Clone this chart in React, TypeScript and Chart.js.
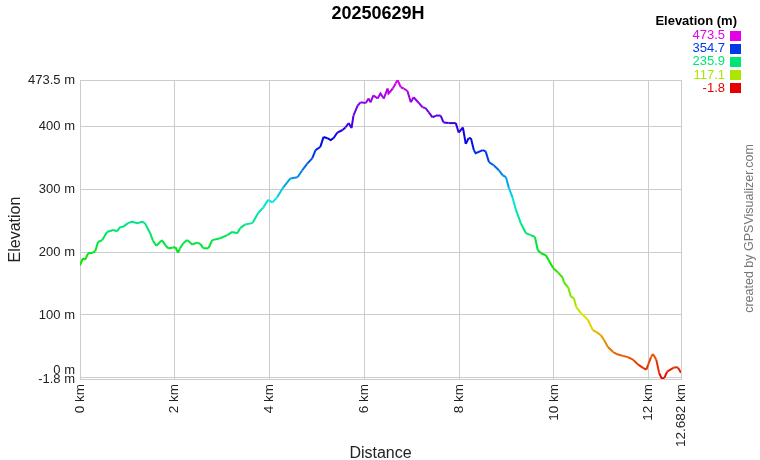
import React, { useEffect, useRef } from 'react';
import { Chart, registerables } from 'chart.js';

Chart.register(...registerables);

const TITLE = '20250629H';
const X_TITLE = 'Distance';
const Y_TITLE = 'Elevation';
const LEGEND_TITLE = 'Elevation (m)';
const CREDIT = 'created by GPSVisualizer.com';

const distanceKm = [
  0, 0.06, 0.11, 0.17, 0.27, 0.32, 0.38, 0.47, 0.57, 0.70, 0.78, 0.85, 0.91, 1.01, 1.10, 1.21, 1.31, 1.37,
  1.48, 1.54, 1.61, 1.73, 1.80, 1.86, 1.95, 2.01, 2.07, 2.11, 2.18, 2.26, 2.37, 2.47, 2.54, 2.60, 2.71, 2.79,
  2.96, 3.11, 3.21, 3.32, 3.38, 3.49, 3.64, 3.76, 3.87, 3.97, 4.06, 4.16, 4.29, 4.44, 4.59, 4.69, 4.80, 4.90,
  4.97, 5.07, 5.14, 5.22, 5.29, 5.35, 5.43, 5.54, 5.60, 5.67, 5.73, 5.77, 5.86, 5.92, 6.03, 6.09, 6.13, 6.19,
  6.28, 6.34, 6.41, 6.49, 6.51, 6.60, 6.66, 6.70, 6.77, 6.83, 6.91, 6.98, 7.04, 7.15, 7.23, 7.29, 7.36, 7.44,
  7.51, 7.61, 7.67, 7.78, 7.93, 7.99, 8.08, 8.14, 8.20, 8.25, 8.31, 8.35, 8.50, 8.56, 8.63, 8.73, 8.84, 8.92,
  8.99, 9.05, 9.13, 9.20, 9.30, 9.41, 9.51, 9.60, 9.66, 9.73, 9.83, 9.89, 9.98, 10.08, 10.19, 10.21, 10.30,
  10.36, 10.42, 10.47, 10.57, 10.72, 10.82, 10.89, 10.99, 11.06, 11.14, 11.25, 11.35, 11.46, 11.56, 11.67,
  11.78, 11.88, 11.95, 11.99, 12.05, 12.09, 12.16, 12.22, 12.28, 12.33, 12.39, 12.52, 12.58, 12.62, 12.682,
];

const elevationM = [
  179, 190, 188, 198, 199, 201, 216, 219, 232, 235, 233, 240, 240, 246, 248, 246, 248, 246,
  230, 218, 210, 219, 211, 206, 207, 208, 199, 206, 214, 219, 212, 215, 213, 206, 206, 219,
  222, 227, 232, 230, 238, 244, 246, 262, 271, 283, 279, 287, 303, 317, 319, 330, 341, 349,
  362, 367, 383, 381, 378, 381, 390, 394, 398, 405, 397, 417, 433, 438, 437, 444, 438, 449,
  444, 452, 444, 460, 452, 460, 468, 473.5, 462, 460, 456, 438, 446, 437, 430, 429, 422, 414,
  417, 417, 406, 405, 405, 390, 398, 372, 381, 381, 362, 357, 362, 360, 343, 338, 330, 322,
  319, 302, 286, 267, 246, 230, 227, 224, 203, 198, 195, 187, 175, 168, 159, 152, 144,
  129, 127, 113, 103, 92, 76, 73, 68, 60, 49, 41, 37, 35, 33, 29,
  21, 16, 13, 21, 33, 38, 29, 8, -1.8, 0, 10, 16, 17, 16, 8,
];

const yTickValues = [-1.8, 0, 100, 200, 300, 400, 473.5];
const xTickValues = [0, 2, 4, 6, 8, 10, 12, 12.682];
const legendValues = [473.5, 354.7, 235.9, 117.1, -1.8];

const ELEV_MIN = -1.8;
const ELEV_MAX = 473.5;
const X_MAX = 12.682;

const FONT = 'Arial, "Liberation Sans", sans-serif';

function colorFor(e: number): string {
  let f = (e - ELEV_MIN) / (ELEV_MAX - ELEV_MIN);
  f = Math.max(0, Math.min(1, f));
  const h = f * 300;
  const v = 0.9;
  const hp = h / 60;
  const x = 1 - Math.abs((hp % 2) - 1);
  let r = 0, g = 0, b = 0;
  if (hp < 1) { r = 1; g = x; }
  else if (hp < 2) { r = x; g = 1; }
  else if (hp < 3) { g = 1; b = x; }
  else if (hp < 4) { g = x; b = 1; }
  else if (hp < 5) { r = x; b = 1; }
  else { r = 1; b = x; }
  return `rgb(${Math.round(r * v * 255)},${Math.round(g * v * 255)},${Math.round(b * v * 255)})`;
}

const decorPlugin = {
  id: 'decor',
  afterDraw(chart: any) {
    const ctx = chart.ctx;
    ctx.save();
    // title
    ctx.fillStyle = '#000';
    ctx.font = `bold 18px ${FONT}`;
    ctx.textAlign = 'center';
    ctx.textBaseline = 'middle';
    ctx.fillText(TITLE, 378, 14);
    // legend
    ctx.font = `bold 13px ${FONT}`;
    ctx.textAlign = 'right';
    ctx.fillStyle = '#000';
    ctx.fillText(LEGEND_TITLE, 737, 21);
    ctx.font = `13px ${FONT}`;
    legendValues.forEach((val, i) => {
      const cy = 35.5 + i * 13.2;
      const c = colorFor(val);
      ctx.fillStyle = c;
      ctx.fillText(String(val), 725, cy);
      ctx.fillRect(730, Math.round(cy - 5), 11, 10);
    });
    // credit
    ctx.translate(750, 228.5);
    ctx.rotate(-Math.PI / 2);
    ctx.textAlign = 'center';
    ctx.fillStyle = '#777';
    ctx.font = `12.5px ${FONT}`;
    ctx.fillText(CREDIT, 0, 0);
    ctx.restore();
  },
};

export default function App() {
  const canvasRef = useRef<HTMLCanvasElement | null>(null);

  useEffect(() => {
    const canvas = canvasRef.current;
    if (!canvas) return;
    const points = distanceKm.map((d, i) => ({ x: d, y: elevationM[i] }));
    const chart = new Chart(canvas, {
      type: 'line',
      data: {
        datasets: [
          {
            data: points,
            borderWidth: 2,
            pointRadius: 0,
            tension: 0,
            fill: false,
            borderColor: '#00e673',
            segment: {
              borderColor: (c: any) => colorFor((c.p0.parsed.y + c.p1.parsed.y) / 2),
            },
          },
        ],
      },
      options: {
        responsive: false,
        animation: false,
        events: [],
        layout: { padding: { left: 0, top: 80, right: 79, bottom: 0 } },
        plugins: {
          legend: { display: false },
          title: { display: false },
          tooltip: { enabled: false },
        },
        scales: {
          x: {
            type: 'linear',
            min: 0,
            max: X_MAX,
            afterBuildTicks: (s: any) => {
              s.ticks = xTickValues.map((v) => ({ value: v }));
            },
            afterFit: (s: any) => {
              s.height = 81;
            },
            grid: { color: '#cccccc', lineWidth: 1, drawTicks: false },
            border: { display: true, color: '#cccccc' },
            ticks: {
              autoSkip: false,
              minRotation: 90,
              maxRotation: 90,
              padding: 5,
              color: '#222',
              font: { family: FONT, size: 13.5 },
              callback: (v: any) => `${v} km`,
            },
            title: {
              display: true,
              text: X_TITLE,
              color: '#222',
              font: { family: FONT, size: 16 },
              padding: { top: 0, bottom: -3 },
            },
          },
          y: {
            type: 'linear',
            min: ELEV_MIN,
            max: ELEV_MAX,
            afterBuildTicks: (s: any) => {
              s.ticks = yTickValues.map((v) => ({ value: v }));
            },
            afterFit: (s: any) => {
              s.width = 80;
            },
            grid: { color: '#cccccc', lineWidth: 1, drawTicks: false },
            border: { display: true, color: '#cccccc' },
            ticks: {
              autoSkip: false,
              padding: 5,
              color: '#222',
              font: { family: FONT, size: 13 },
              callback: (v: any) => {
                if (v === 0) return ['0 m', ''];
                return `${v} m`;
              },
            },
            title: {
              display: true,
              text: Y_TITLE,
              color: '#222',
              font: { family: FONT, size: 16 },
              padding: { top: 6, bottom: 0 },
            },
          },
        },
      },
      plugins: [decorPlugin],
    } as any);
    return () => chart.destroy();
  }, []);

  return (
    <div style={{ position: 'absolute', left: 0, top: 0, width: 760, height: 460, background: '#fff' }}>
      <canvas ref={canvasRef} width={760} height={460} style={{ width: 760, height: 460, display: 'block' }} />
    </div>
  );
}
